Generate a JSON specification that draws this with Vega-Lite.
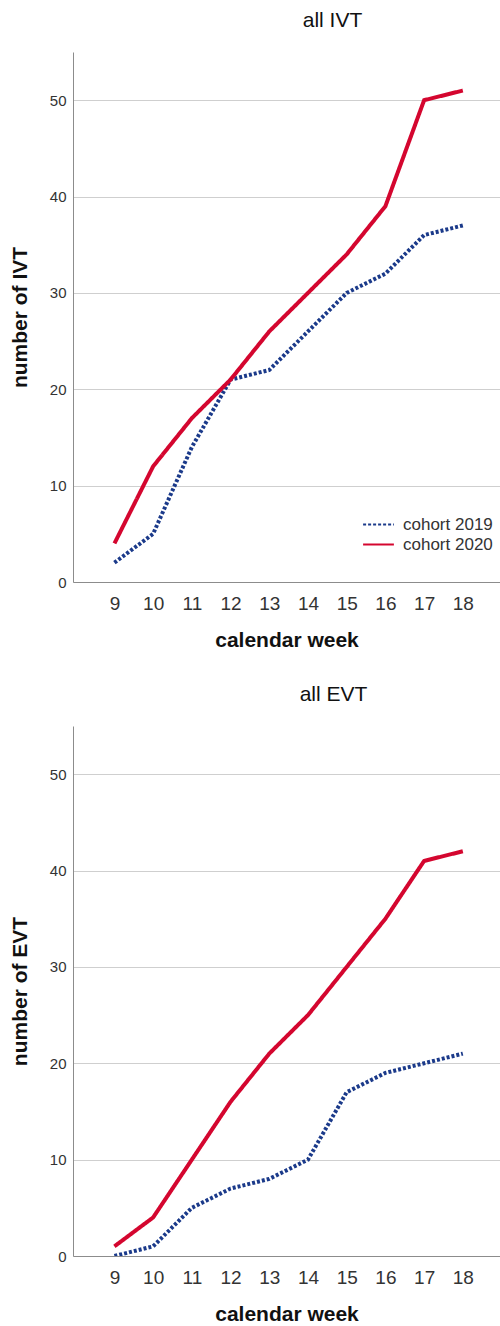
{
  "$schema": "https://vega.github.io/schema/vega-lite/v6.json",
  "background": "white",
  "padding": {"left": 9, "top": 10, "right": 0, "bottom": 0},
  "config": {
    "font": "Liberation Sans",
    "view": {"stroke": null},
    "axis": {"domainColor": "#8c8c8c", "gridColor": "#cfcfcf", "labelColor": "#333333", "titleColor": "#111111"}
  },
  "spacing": 34,
  "datasets": {
    "ivt": [
      {"week": 9, "cohort": "cohort 2019", "n": 2},
      {"week": 10, "cohort": "cohort 2019", "n": 5},
      {"week": 11, "cohort": "cohort 2019", "n": 14},
      {"week": 12, "cohort": "cohort 2019", "n": 21},
      {"week": 13, "cohort": "cohort 2019", "n": 22},
      {"week": 14, "cohort": "cohort 2019", "n": 26},
      {"week": 15, "cohort": "cohort 2019", "n": 30},
      {"week": 16, "cohort": "cohort 2019", "n": 32},
      {"week": 17, "cohort": "cohort 2019", "n": 36},
      {"week": 18, "cohort": "cohort 2019", "n": 37},
      {"week": 9, "cohort": "cohort 2020", "n": 4},
      {"week": 10, "cohort": "cohort 2020", "n": 12},
      {"week": 11, "cohort": "cohort 2020", "n": 17},
      {"week": 12, "cohort": "cohort 2020", "n": 21},
      {"week": 13, "cohort": "cohort 2020", "n": 26},
      {"week": 14, "cohort": "cohort 2020", "n": 30},
      {"week": 15, "cohort": "cohort 2020", "n": 34},
      {"week": 16, "cohort": "cohort 2020", "n": 39},
      {"week": 17, "cohort": "cohort 2020", "n": 50},
      {"week": 18, "cohort": "cohort 2020", "n": 51}
    ],
    "evt": [
      {"week": 9, "cohort": "cohort 2019", "n": 0},
      {"week": 10, "cohort": "cohort 2019", "n": 1},
      {"week": 11, "cohort": "cohort 2019", "n": 5},
      {"week": 12, "cohort": "cohort 2019", "n": 7},
      {"week": 13, "cohort": "cohort 2019", "n": 8},
      {"week": 14, "cohort": "cohort 2019", "n": 10},
      {"week": 15, "cohort": "cohort 2019", "n": 17},
      {"week": 16, "cohort": "cohort 2019", "n": 19},
      {"week": 17, "cohort": "cohort 2019", "n": 20},
      {"week": 18, "cohort": "cohort 2019", "n": 21},
      {"week": 9, "cohort": "cohort 2020", "n": 1},
      {"week": 10, "cohort": "cohort 2020", "n": 4},
      {"week": 11, "cohort": "cohort 2020", "n": 10},
      {"week": 12, "cohort": "cohort 2020", "n": 16},
      {"week": 13, "cohort": "cohort 2020", "n": 21},
      {"week": 14, "cohort": "cohort 2020", "n": 25},
      {"week": 15, "cohort": "cohort 2020", "n": 30},
      {"week": 16, "cohort": "cohort 2020", "n": 35},
      {"week": 17, "cohort": "cohort 2020", "n": 41},
      {"week": 18, "cohort": "cohort 2020", "n": 42}
    ]
  },
  "resolve": {"scale": {"color": "independent", "strokeDash": "independent"}, "legend": {"color": "independent", "strokeDash": "independent"}},
  "vconcat": [
    {
      "width": 427,
      "height": 530,
      "data": {"name": "ivt"},
      "title": {"text": "all IVT", "fontSize": 21, "fontWeight": "normal", "color": "#111111", "anchor": "middle", "dx": 46, "offset": 21},
      "mark": {"type": "line", "strokeWidth": 4, "clip": true},
      "encoding": {
        "x": {"field": "week", "type": "quantitative", "scale": {"domain": [7.93, 18.96], "nice": false, "zero": false},
          "axis": {"values": [9,10,11,12,13,14,15,16,17,18], "grid": false, "ticks": false, "labelFontSize": 19, "labelPadding": 12, "title": "calendar week", "titleFontSize": 21, "titleFontWeight": "bold", "titlePadding": 16}},
        "y": {"field": "n", "type": "quantitative", "scale": {"domain": [0, 55], "nice": false},
          "axis": {"values": [0,10,20,30,40,50], "grid": true, "ticks": false, "labelFontSize": 15, "labelPadding": 7, "title": "number of IVT", "titleFontSize": 21, "titleFontWeight": "bold", "titlePadding": 19}},
        "color": {"field": "cohort", "type": "nominal", "scale": {"domain": ["cohort 2019", "cohort 2020"], "range": ["#1b3a8a", "#d4062f"]},
          "legend": {"title": null, "orient": "none", "legendX": 297, "legendY": 464, "labelFontSize": 17, "labelColor": "#333333", "symbolType": "M-2.8,0H2.8", "symbolStrokeWidth": 2, "symbolSize": 121, "rowPadding": 2, "labelOffset": 16}},
        "strokeDash": {"field": "cohort", "type": "nominal", "scale": {"domain": ["cohort 2019", "cohort 2020"], "range": [[3, 2], [1, 0]]},
          "legend": null}
      }
    },
    {
      "width": 427,
      "height": 530,
      "data": {"name": "evt"},
      "title": {"text": "all EVT", "fontSize": 21, "fontWeight": "normal", "color": "#111111", "anchor": "middle", "dx": 47, "offset": 21},
      "mark": {"type": "line", "strokeWidth": 4, "clip": true},
      "encoding": {
        "x": {"field": "week", "type": "quantitative", "scale": {"domain": [7.93, 18.96], "nice": false, "zero": false},
          "axis": {"values": [9,10,11,12,13,14,15,16,17,18], "grid": false, "ticks": false, "labelFontSize": 19, "labelPadding": 12, "title": "calendar week", "titleFontSize": 21, "titleFontWeight": "bold", "titlePadding": 16}},
        "y": {"field": "n", "type": "quantitative", "scale": {"domain": [0, 55], "nice": false},
          "axis": {"values": [0,10,20,30,40,50], "grid": true, "ticks": false, "labelFontSize": 15, "labelPadding": 7, "title": "number of EVT", "titleFontSize": 21, "titleFontWeight": "bold", "titlePadding": 19}},
        "color": {"field": "cohort", "type": "nominal", "scale": {"domain": ["cohort 2019", "cohort 2020"], "range": ["#1b3a8a", "#d4062f"]}, "legend": null},
        "strokeDash": {"field": "cohort", "type": "nominal", "scale": {"domain": ["cohort 2019", "cohort 2020"], "range": [[3, 2], [1, 0]]}, "legend": null}
      }
    }
  ]
}
